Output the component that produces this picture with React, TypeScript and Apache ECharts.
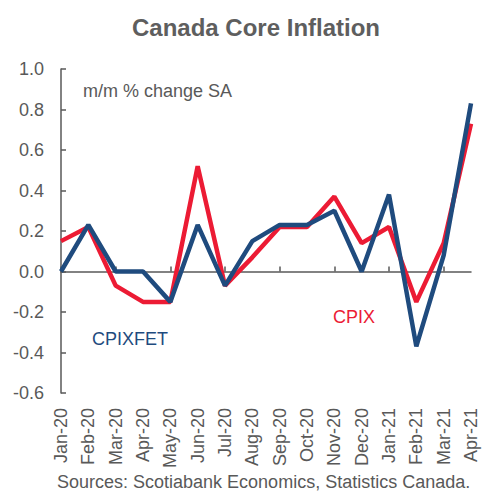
import React, { useEffect, useRef } from "react";
import * as echarts from "echarts";

const categories = [
  "Jan-20", "Feb-20", "Mar-20", "Apr-20", "May-20", "Jun-20", "Jul-20", "Aug-20",
  "Sep-20", "Oct-20", "Nov-20", "Dec-20", "Jan-21", "Feb-21", "Mar-21", "Apr-21",
];
const cpix = [0.15, 0.22, -0.07, -0.15, -0.15, 0.52, -0.07, 0.07, 0.22, 0.22, 0.37, 0.14, 0.22, -0.15, 0.14, 0.73];
const cpixfet = [0.0, 0.23, 0.0, 0.0, -0.15, 0.23, -0.07, 0.15, 0.23, 0.23, 0.3, 0.0, 0.38, -0.37, 0.08, 0.83];

const RED = "#EC1B34";
const BLUE = "#1F4B7E";
const GRAY = "#595959";
const FONT = "Liberation Sans, Arial, sans-serif";

export default function App() {
  const ref = useRef<HTMLDivElement>(null);
  useEffect(() => {
    document.body.style.margin = "0";
    const chart = echarts.init(ref.current!, null, { renderer: "svg" });
    chart.setOption({
      animation: false,
      backgroundColor: "#ffffff",
      title: {
        text: "Canada Core Inflation",
        left: 127,
        top: 10,
        textStyle: { fontFamily: FONT, fontSize: 24, fontWeight: "bold", color: "#5e5e5e" },
      },
      grid: { left: 61, right: 20, top: 69, bottom: 103, containLabel: false },
      xAxis: [
        {
          type: "category",
          data: categories,
          boundaryGap: false,
          axisLine: { onZero: true, lineStyle: { color: GRAY, width: 1.5 } },
          axisTick: { show: true, inside: true, length: 5, lineStyle: { color: GRAY, width: 1.5 } },
          axisLabel: { show: false },
          splitLine: { show: false },
        },
        {
          type: "category",
          data: categories,
          boundaryGap: false,
          position: "bottom",
          axisLine: { show: false, onZero: false },
          axisTick: { show: false },
          axisLabel: {
            rotate: 90,
            interval: 0,
            margin: 15,
            fontFamily: FONT,
            fontSize: 18,
            color: GRAY,
          },
          splitLine: { show: false },
        },
      ],
      yAxis: {
        type: "value",
        min: -0.6,
        max: 1.0,
        interval: 0.2,
        axisLine: { show: true, lineStyle: { color: GRAY, width: 1.5 } },
        axisTick: { show: true, inside: true, length: 5, lineStyle: { color: GRAY, width: 1.5 } },
        axisLabel: {
          margin: 17,
          fontFamily: FONT,
          fontSize: 18,
          color: GRAY,
          formatter: (v: number) => v.toFixed(1),
        },
        splitLine: { show: false },
      },
      graphic: [
        {
          type: "text",
          left: 83,
          top: 82,
          style: { text: "m/m % change SA", font: `18px ${FONT}`, fill: GRAY },
        },
        {
          type: "text",
          left: 92,
          top: 330,
          style: { text: "CPIXFET", font: `18px ${FONT}`, fill: BLUE },
        },
        {
          type: "text",
          left: 333,
          top: 308,
          style: { text: "CPIX", font: `18px ${FONT}`, fill: RED },
        },
        {
          type: "text",
          left: 57,
          top: 473,
          style: { text: "Sources: Scotiabank Economics, Statistics Canada.", font: `18px ${FONT}`, fill: GRAY },
        },
      ],
      series: [
        {
          name: "CPIX",
          type: "line",
          data: cpix,
          xAxisIndex: 0,
          symbol: "none",
          lineStyle: { color: RED, width: 4.5 },
          z: 2,
        },
        {
          name: "CPIXFET",
          type: "line",
          data: cpixfet,
          xAxisIndex: 0,
          symbol: "none",
          lineStyle: { color: BLUE, width: 4.5 },
          z: 3,
        },
      ],
    });
    return () => chart.dispose();
  }, []);
  return <div ref={ref} style={{ width: 491, height: 496 }} />;
}
